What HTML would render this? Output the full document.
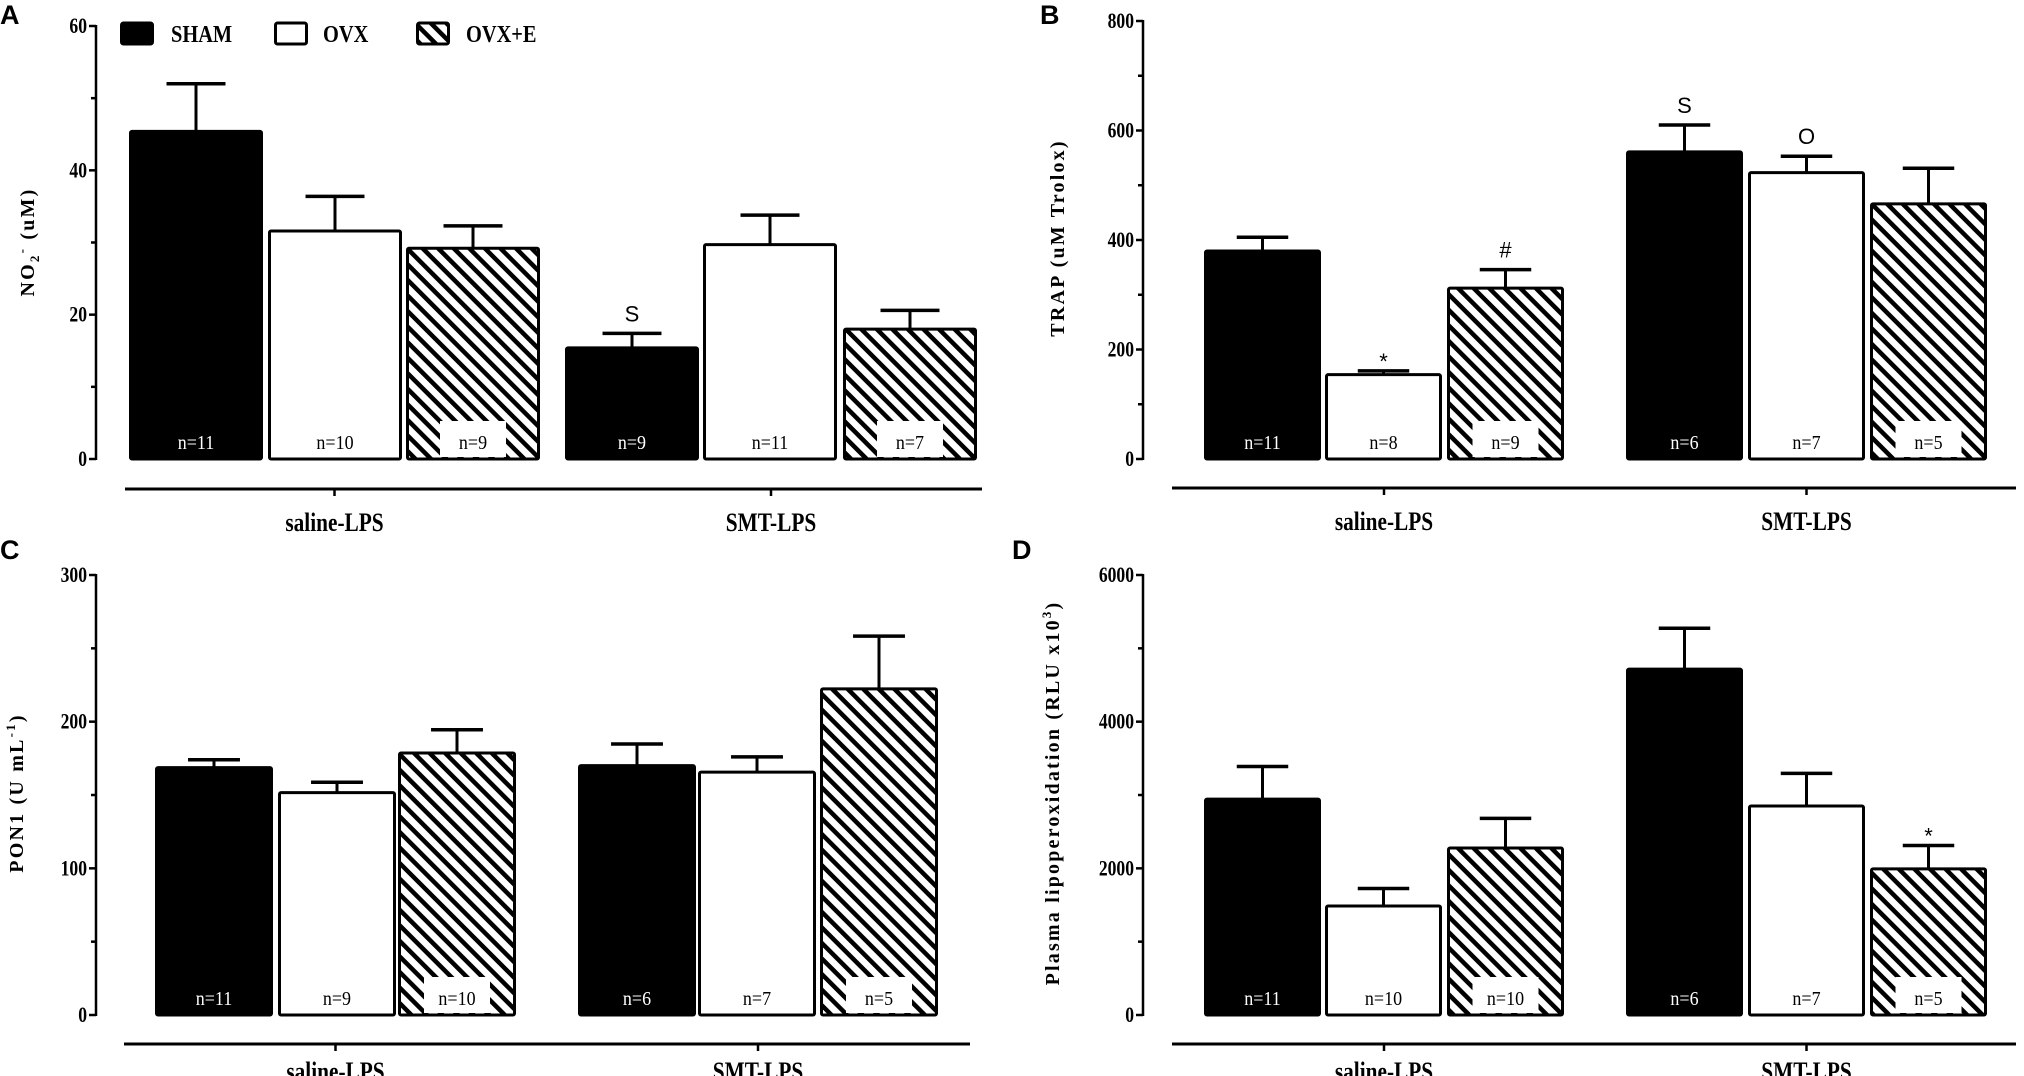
<!DOCTYPE html>
<html><head><meta charset="utf-8"><style>
html,body{margin:0;padding:0;background:#fff;overflow:hidden;}
svg{display:block;}
text{font-family:"Liberation Serif",serif;}
text.sans{font-family:"Liberation Sans",sans-serif;}
</style></head><body>
<svg id="fig" width="2024" height="1076" viewBox="0 0 2024 1076" xmlns="http://www.w3.org/2000/svg">
<defs>
<pattern id="hatch" patternUnits="userSpaceOnUse" width="11" height="11" patternTransform="rotate(-45)">
<rect width="11" height="11" fill="#fff"/>
<rect x="0" y="0" width="4.5" height="11" fill="#000"/>
</pattern>
</defs>
<g id="root"></g>
</svg>
<script>
const groups = ["saline-LPS","SMT-LPS"];
const seriesNames = ["SHAM","OVX","OVX+E"];
const aValues = [45.4,31.6,29.2,15.4,29.7,18.0];
const aErrors = [52.0,36.4,32.3,17.4,33.8,20.6];
const aN = ["n=11","n=10","n=9","n=9","n=11","n=7"];
const aTicks = [0,20,40,60];
const bValues = [380,154,312,561,523,466];
const bErrors = [405,161,346,610,553,531];
const bN = ["n=11","n=8","n=9","n=6","n=7","n=5"];
const bTicks = [0,200,400,600,800];
const cValues = [168.7,151.6,178.6,170,165.6,222.4];
const cErrors = [174,158.7,194.5,184.8,176,258.3];
const cN = ["n=11","n=9","n=10","n=6","n=7","n=5"];
const cTicks = [0,100,200,300];
const dValues = [2944,1486,2278,4716,2850,1992];
const dErrors = [3389,1725,2681,5274,3295,2311];
const dN = ["n=11","n=10","n=10","n=6","n=7","n=5"];
const dTicks = [0,2000,4000,6000];
const aMarks = ["","","","S","",""];
const bMarks = ["","*","#","S","O",""];
const cMarks = ["","","","","",""];
const dMarks = ["","","","","","*"];

const NS="http://www.w3.org/2000/svg";
const root=document.getElementById('root');
function mk(tag,attrs,parent,txt){const e=document.createElementNS(NS,tag);for(const k in attrs)e.setAttribute(k,attrs[k]);if(txt!==undefined)e.textContent=txt;(parent||root).appendChild(e);return e;}

function panel(cfg){
  const g=mk('g',{});
  
  
  const max=cfg.ticks[cfg.ticks.length-1];
  const y=v=>cfg.y0-(v/max)*(cfg.y0-cfg.yTop);
  const L=mk('text',{x:cfg.letterX,y:cfg.letterY,'class':'sans','font-weight':'bold','font-size':'27'},g,cfg.id.toUpperCase());
  
  
  const ax=mk('line',{x1:cfg.axisX,x2:cfg.axisX,y1:cfg.yTop-1,y2:cfg.y0+1,stroke:'#000','stroke-width':2.5},g);
  
  
  const step=cfg.ticks[1]-cfg.ticks[0];
  for(let i=0;i<cfg.ticks.length;i++){
    const t=cfg.ticks[i];
    mk('line',{x1:cfg.axisX-7,x2:cfg.axisX,y1:y(t),y2:y(t),stroke:'#000','stroke-width':2.5},g);
    const tl=mk('text',{x:cfg.axisX-9,y:y(t)+7,'text-anchor':'end','font-weight':'bold','font-size':'22',transform:`translate(${(cfg.axisX-9)*0.2},0) scale(0.8,1)`},g,String(t));
    
    
    if(i<cfg.ticks.length-1){const m=t+step/2;mk('line',{x1:cfg.axisX-5,x2:cfg.axisX,y1:y(m),y2:y(m),stroke:'#000','stroke-width':2.5},g);}
  }
  const yt=mk('text',{x:0,y:0,'text-anchor':'middle','font-weight':'bold','font-size':'20','letter-spacing':'2.2',transform:`translate(${cfg.titleX},${cfg.titleY}) rotate(-90)`},g);
  yt.innerHTML=cfg.title;
  
  
  for(let i=0;i<cfg.values.length;i++){
    const x0=cfg.barX[i], w=cfg.barW, top=y(cfg.values[i]), s=i%3;
    const cx=x0+w/2;
    const eb=mk('g',{},g);
    
    
    mk('line',{x1:cx,x2:cx,y1:top,y2:y(cfg.errors[i]),stroke:'#000','stroke-width':3},eb);
    mk('line',{x1:cx-w*0.22,x2:cx+w*0.22,y1:y(cfg.errors[i]),y2:y(cfg.errors[i]),stroke:'#000','stroke-width':3.5},eb);
    const fill=s===0?'#000':(s===1?'#fff':'url(#hatch)');
    const b=mk('rect',{x:x0+1.5,y:top,width:w-3,height:cfg.y0-top,fill:fill,stroke:'#000','stroke-width':3,rx:1.5},g);
    
    
    if(s===2){mk('rect',{x:cx-33,y:cfg.y0-38,width:66,height:36,fill:'#fff'},g);}
    const nt=mk('text',{x:cx,y:cfg.y0-10,'text-anchor':'middle','font-size':'20',fill:s===0?'#fff':'#000',transform:`translate(${cx*0.1},0) scale(0.9,1)`},g,cfg.n[i]);
    
    
    if(cfg.marks[i]){
      const ey=y(cfg.errors[i]);
      const mt=mk('text',{x:cx,y:ey-(cfg.marks[i]==='*'?2:12),'text-anchor':'middle','class':'sans','font-size':'22'},g,cfg.marks[i]);
      
      
    }
  }
  const ca=mk('line',{x1:cfg.catX1,x2:cfg.catX2,y1:cfg.catY,y2:cfg.catY,stroke:'#000','stroke-width':3},g);
  
  
  for(let k=0;k<groups.length;k++){
    const tx=(cfg.barX[k*3]+cfg.barX[k*3+2]+cfg.barW)/2;
    mk('line',{x1:tx,x2:tx,y1:cfg.catY,y2:cfg.catY+7,stroke:'#000','stroke-width':2.5},g);
    const cl=mk('text',{x:tx,y:cfg.catY+cfg.catLab,'text-anchor':'middle','font-weight':'bold','font-size':'26',transform:`translate(${tx*0.18},0) scale(0.82,1)`},g,groups[k]);
    
    
  }
}
const leftX=[129,268,406,565,703,843];
const rightX=[1204,1325,1447,1626,1748,1870];
panel({id:'a',values:aValues,errors:aErrors,n:aN,ticks:aTicks,marks:aMarks,axisX:96,y0:459,yTop:26,barX:leftX,barW:134,catY:489,catLab:42,catX1:125,catX2:982,letterX:0,letterY:24,titleX:34,titleY:242,title:'NO<tspan font-size="13" dy="5">2</tspan><tspan font-size="13" dy="-13">-</tspan><tspan dy="8"> (uM)</tspan>'});
panel({id:'b',values:bValues,errors:bErrors,n:bN,ticks:bTicks,marks:bMarks,axisX:1143,y0:459,yTop:21,barX:rightX,barW:117,catY:488,catLab:42,catX1:1172,catX2:2016,letterX:1040,letterY:24,titleX:1064,titleY:238,title:'TRAP (uM Trolox)'});
panel({id:'c',values:cValues,errors:cErrors,n:cN,ticks:cTicks,marks:cMarks,axisX:96,y0:1015,yTop:575,barX:[155,278,398,578,698,820],barW:118,catY:1044,catLab:36,catX1:124,catX2:970,letterX:0,letterY:559,titleX:23,titleY:793,title:'PON1 (U mL<tspan font-size="13" dy="-8">-1</tspan><tspan dy="8">)</tspan>'});
panel({id:'d',values:dValues,errors:dErrors,n:dN,ticks:dTicks,marks:dMarks,axisX:1143,y0:1015,yTop:575,barX:rightX,barW:117,catY:1044,catLab:36,catX1:1172,catX2:2016,letterX:1012,letterY:559,titleX:1059,titleY:793,title:'Plasma lipoperoxidation (RLU x10<tspan font-size="13" dy="-8">3</tspan><tspan dy="8">)</tspan>'});
const lg=mk('g',{});


const legX=[120,274,416], legTX=[171,323,466], legFill=['#000','#fff','url(#hatch)'];
for(let i=0;i<3;i++){
  const e=mk('g',{},lg);
  
  
  mk('rect',{x:legX[i]+1.5,y:23,width:31,height:21,fill:legFill[i],stroke:'#000','stroke-width':3,rx:2},e);
  mk('text',{x:legTX[i],y:42,'font-weight':'bold','font-size':'24',transform:`translate(${legTX[i]*0.15},0) scale(0.85,1)`},e,seriesNames[i]);
}
</script>
</body></html>
